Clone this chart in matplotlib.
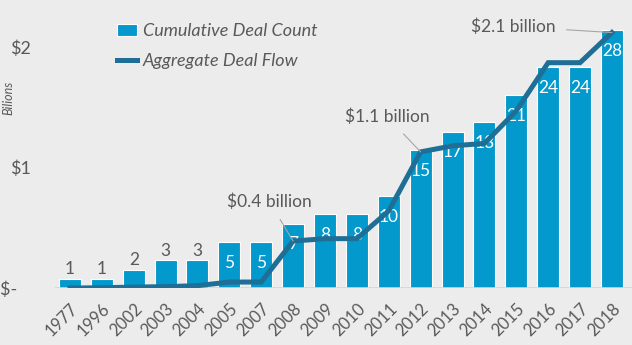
import matplotlib.pyplot as plt
from matplotlib.patches import Patch
from matplotlib.lines import Line2D

plt.rcParams['font.family'] = ['Lato', 'DejaVu Sans']

years = ['1977', '1996', '2002', '2003', '2004', '2005', '2007', '2008', '2009',
         '2010', '2011', '2012', '2013', '2014', '2015', '2016', '2017', '2018']
deal_count = [1, 1, 2, 3, 3, 5, 5, 7, 8, 8, 10, 15, 17, 18, 21, 24, 24, 28]
deal_flow = [0.0, 0.003, 0.008, 0.012, 0.02, 0.05, 0.05, 0.39, 0.41, 0.41,
             0.64, 1.13, 1.18, 1.2, 1.47, 1.87, 1.87, 2.12]
callouts = [(7, '$0.4 billion'), (11, '$1.1 billion'), (17, '$2.1 billion')]

bg = '#ececec'
bar_col = '#0399cc'
line_col = '#1f6e96'
txt = '#595959'

fig = plt.figure(figsize=(6.32, 3.45), dpi=100, facecolor=bg)
ax = fig.add_axes([0.087, 0.165, 0.913, 0.835])
ax2 = ax.twinx()
ax.set_zorder(ax2.get_zorder() + 1)
ax.patch.set_visible(False)
ax2.set_facecolor(bg)

x = list(range(len(years)))

# bars (deal count) on the twin axis
bars = ax2.bar(x, deal_count, width=0.69, color=bar_col, edgecolor='white', linewidth=0.8)
ax2.set_ylim(0, 31.3)
ax2.set_yticks([])
for xi, c in zip(x, deal_count):
    if c >= 5:
        ax2.annotate(str(c), (xi, c), xytext=(0, -15), textcoords='offset points',
                     ha='center', va='center', color='white', fontsize=12.5)
    else:
        ax2.annotate(str(c), (xi, c), xytext=(0, 7), textcoords='offset points',
                     ha='center', va='center', color=txt, fontsize=12.5)

# aggregate deal flow line
ax.plot(x, deal_flow, color=line_col, linewidth=3.6, solid_joinstyle='miter')
ax.set_ylim(0, 2.39)
ax.set_xlim(-0.47, 17.63)
ax.set_yticks([0, 1, 2])
ax.set_yticklabels(['$-   ', '$1', '$2'], fontsize=13, color=txt)
ax.set_xticks(x)
ax.set_xticklabels(years, rotation=45, ha='right', rotation_mode='anchor',
                   fontsize=12, color=txt)
ax.tick_params(axis='both', length=0)
ax.tick_params(axis='x', pad=9)
ax.tick_params(axis='y', pad=17)
for a in (ax, ax2):
    for s in a.spines.values():
        s.set_visible(False)
ax.axhline(0, color='#d4d4d4', linewidth=1.2, zorder=0)

ax.text(-0.08, 0.66, 'Bilions', transform=ax.transAxes, rotation=90,
        ha='center', va='center', fontsize=9, style='italic', color=txt)

# callouts
offsets = {7: (-0.75, 0.33), 11: (-1.05, 0.29), 17: (-3.1, 0.05)}
for idx, label in callouts:
    dx, dy = offsets[idx]
    ax.annotate(label, (x[idx], deal_flow[idx]),
                xytext=(x[idx] + dx, deal_flow[idx] + dy), textcoords='data',
                ha='center', va='center', fontsize=12.5, color=txt,
                arrowprops=dict(arrowstyle='-', color='#a6a6a6', lw=0.8,
                                shrinkA=6, shrinkB=0))

handles = [Patch(facecolor=bar_col, edgecolor='white', linewidth=0.8),
           Line2D([0], [0], color=line_col, linewidth=3.6)]
ax.legend(handles, ['Cumulative Deal Count', 'Aggregate Deal Flow'],
          loc='upper left', bbox_to_anchor=(0.08, 0.975), frameon=False,
          prop={'style': 'italic', 'size': 13}, labelcolor=txt,
          handlelength=1.1, handletextpad=0.3, labelspacing=0.75)

fig.savefig('out.png', dpi=100, facecolor=bg)
